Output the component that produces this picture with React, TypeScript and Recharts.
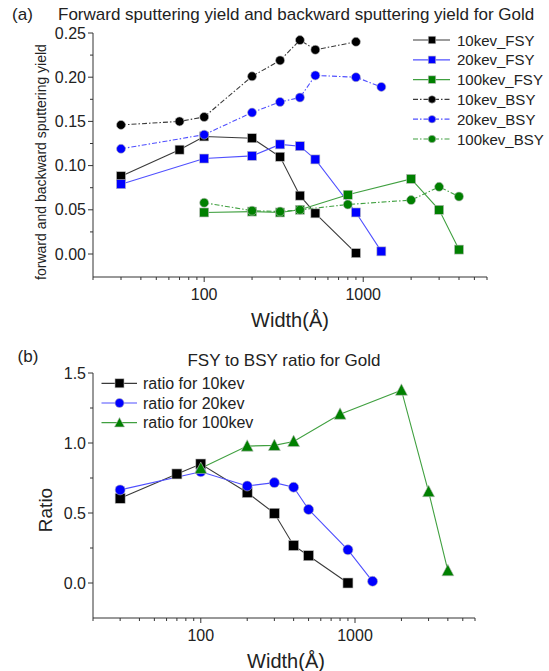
import React from 'react';
import { LineChart, Line, XAxis, YAxis } from 'recharts';

const FONT = '"Liberation Sans", Arial, Helvetica, sans-serif';

// ---- Panel (a): sputtering yields ----
const widths10 = [30, 70, 100, 200, 300, 400, 500, 900];
const fsy10 = [0.088, 0.118, 0.133, 0.131, 0.110, 0.066, 0.046, 0.001];
const bsy10 = [0.146, 0.150, 0.155, 0.201, 0.219, 0.242, 0.231, 0.240];

const widths20 = [30, 100, 200, 300, 400, 500, 900, 1300];
const fsy20 = [0.079, 0.108, 0.111, 0.124, 0.122, 0.107, 0.047, 0.003];
const bsy20 = [0.119, 0.135, 0.160, 0.172, 0.177, 0.202, 0.200, 0.189];

const widths100 = [100, 200, 300, 400, 800, 2000, 3000, 4000];
const fsy100 = [0.047, 0.048, 0.047, 0.050, 0.067, 0.085, 0.050, 0.005];
const bsy100 = [0.058, 0.049, 0.048, 0.050, 0.056, 0.061, 0.076, 0.065];

// ---- Panel (b): FSY / BSY ratio ----
const ratio10 = [0.605, 0.779, 0.850, 0.646, 0.498, 0.268, 0.195, 0.0];
const ratio20 = [0.665, 0.795, 0.693, 0.717, 0.684, 0.525, 0.237, 0.012];
const ratio100 = [0.819, 0.978, 0.983, 1.011, 1.206, 1.377, 0.653, 0.088];

// ---- Ticks ----
const xTicks = [20, 30, 40, 50, 60, 70, 80, 90, 100, 200, 300, 400, 500, 600, 700, 800, 900, 1000, 2000, 3000, 4000, 5000, 6000];
const xMajor = [100, 1000];
const yTicksA = [0, 0.025, 0.05, 0.075, 0.1, 0.125, 0.15, 0.175, 0.2, 0.225, 0.25];
const yMajorA = [0, 0.05, 0.1, 0.15, 0.2, 0.25];
const yTicksB = [0, 0.25, 0.5, 0.75, 1.0, 1.25, 1.5];
const yMajorB = [0, 0.5, 1.0, 1.5];

const BLACK = '#000000';
const BLUE = '#0000ff';
const GREEN = '#008000';
const LINE_BLACK = '#3a3a3a';
const LINE_BLUE = '#5050ff';
const LINE_GREEN = '#40a040';
const DASH = '5 2 1.5 2';
const AXIS = '#333333';

const toPoints = (xs: number[], ys: number[]) => xs.map((x, i) => ({ x, y: ys[i] }));
const isIn = (v: number, arr: number[]) => arr.some((a) => Math.abs(a - v) < 1e-9);

type Shape = 'square' | 'circle' | 'triangle';

const Marker = ({ shape, cx, cy, color, size }: { shape: Shape; cx: number; cy: number; color: string; size: number }) => {
  const h = size / 2;
  if (shape === 'square') {
    return <rect x={cx - h} y={cy - h} width={size} height={size} fill={color} stroke="#bbbbbb" strokeWidth={0.6} />;
  }
  if (shape === 'circle') {
    return <circle cx={cx} cy={cy} r={h} fill={color} stroke="#bbbbbb" strokeWidth={0.6} />;
  }
  const t = size * 0.58;
  return (
    <polygon
      points={`${cx},${cy - t} ${cx - h - 0.5},${cy + t * 0.8} ${cx + h + 0.5},${cy + t * 0.8}`}
      fill={color}
      stroke="#bbbbbb"
      strokeWidth={0.6}
    />
  );
};

const makeDot = (shape: Shape, color: string, size: number) => (props: any) => {
  const { cx, cy, index } = props;
  if (cx == null || cy == null) return <g key={`d-${index}`} />;
  return (
    <g key={`d-${index}`}>
      <Marker shape={shape} cx={cx} cy={cy} color={color} size={size} />
    </g>
  );
};

const XTick = (props: any) => {
  const { x, y, payload } = props;
  const v = payload.value;
  const major = isIn(v, xMajor);
  return (
    <g>
      <line x1={x} x2={x} y1={y} y2={y + (major ? 5 : 3)} stroke={AXIS} strokeWidth={1} />
      {major && (
        <text x={x} y={y + 17} textAnchor="middle" dominantBaseline="central" fontSize={16} fontFamily={FONT} fill="#222">
          {v}
        </text>
      )}
    </g>
  );
};

const makeYTick = (majors: number[], digits: number) => (props: any) => {
  const { x, y, payload } = props;
  const v = payload.value;
  const major = isIn(v, majors);
  return (
    <g>
      <line x1={x} x2={x - (major ? 5 : 3)} y1={y} y2={y} stroke={AXIS} strokeWidth={1} />
      {major && (
        <text x={x - 7} y={y} textAnchor="end" dominantBaseline="central" fontSize={16} fontFamily={FONT} fill="#222">
          {v.toFixed(digits)}
        </text>
      )}
    </g>
  );
};

const seriesA = [
  { name: '10kev_FSY', xs: widths10, ys: fsy10, color: BLACK, line: LINE_BLACK, shape: 'square' as Shape, dash: undefined as string | undefined },
  { name: '20kev_FSY', xs: widths20, ys: fsy20, color: BLUE, line: LINE_BLUE, shape: 'square' as Shape, dash: undefined },
  { name: '100kev_FSY', xs: widths100, ys: fsy100, color: GREEN, line: LINE_GREEN, shape: 'square' as Shape, dash: undefined },
  { name: '10kev_BSY', xs: widths10, ys: bsy10, color: BLACK, line: LINE_BLACK, shape: 'circle' as Shape, dash: DASH },
  { name: '20kev_BSY', xs: widths20, ys: bsy20, color: BLUE, line: LINE_BLUE, shape: 'circle' as Shape, dash: DASH },
  { name: '100kev_BSY', xs: widths100, ys: bsy100, color: GREEN, line: LINE_GREEN, shape: 'circle' as Shape, dash: DASH },
];

const seriesB = [
  { name: 'ratio for 10kev', xs: widths10, ys: ratio10, color: BLACK, line: LINE_BLACK, shape: 'square' as Shape, dash: undefined as string | undefined },
  { name: 'ratio for 20kev', xs: widths20, ys: ratio20, color: BLUE, line: LINE_BLUE, shape: 'circle' as Shape, dash: undefined },
  { name: 'ratio for 100kev', xs: widths100, ys: ratio100, color: GREEN, line: LINE_GREEN, shape: 'triangle' as Shape, dash: undefined },
];

const LegendRows = ({ items, x0, x1, xm, xt, y0, dy, fontSize, size }: any) => (
  <g>
    {items.map((s: any, i: number) => {
      const y = y0 + i * dy;
      return (
        <g key={s.name}>
          <line x1={x0} x2={x1} y1={y} y2={y} stroke={s.line} strokeWidth={1.2} strokeDasharray={s.dash} />
          <Marker shape={s.shape} cx={xm} cy={y} color={s.color} size={size} />
          <text x={xt} y={y} dominantBaseline="central" fontSize={fontSize} fontFamily={FONT} fill="#222">
            {s.name}
          </text>
        </g>
      );
    })}
  </g>
);

export default function App() {
  return (
    <div style={{ position: 'absolute', left: 0, top: 0, width: 549, height: 671, background: '#fff', overflow: 'hidden' }}>
      <div style={{ position: 'absolute', left: 0, top: 0 }}>
        <LineChart width={549} height={340} margin={{ top: 33, right: 62, bottom: 33, left: 33 }}>
          <XAxis
            dataKey="x"
            type="number"
            scale="log"
            domain={[20, 6000]}
            allowDataOverflow
            ticks={xTicks}
            interval={0}
            tick={<XTick />}
            tickLine={false}
            tickSize={0}
            tickMargin={0}
            height={30}
            axisLine={{ stroke: AXIS, strokeWidth: 1 }}
          />
          <YAxis
            type="number"
            domain={[-0.026, 0.25]}
            allowDataOverflow
            ticks={yTicksA}
            interval={0}
            tick={makeYTick(yMajorA, 2)}
            tickLine={false}
            tickSize={0}
            tickMargin={0}
            width={60}
            axisLine={{ stroke: AXIS, strokeWidth: 1 }}
          />
          {seriesA.map((s) => (
            <Line
              key={s.name}
              data={toPoints(s.xs, s.ys)}
              dataKey="y"
              type="linear"
              stroke={s.line}
              strokeWidth={1.1}
              strokeDasharray={s.dash}
              dot={makeDot(s.shape, s.color, 9)}
              activeDot={false}
              isAnimationActive={false}
            />
          ))}
        </LineChart>
      </div>
      <div style={{ position: 'absolute', left: 0, top: 340 }}>
        <LineChart width={549} height={331} margin={{ top: 33, right: 74, bottom: 23, left: 33 }}>
          <XAxis
            dataKey="x"
            type="number"
            scale="log"
            domain={[20, 6000]}
            allowDataOverflow
            ticks={xTicks}
            interval={0}
            tick={<XTick />}
            tickLine={false}
            tickSize={0}
            tickMargin={0}
            height={30}
            axisLine={{ stroke: AXIS, strokeWidth: 1 }}
          />
          <YAxis
            type="number"
            domain={[-0.25, 1.5]}
            allowDataOverflow
            ticks={yTicksB}
            interval={0}
            tick={makeYTick(yMajorB, 1)}
            tickLine={false}
            tickSize={0}
            tickMargin={0}
            width={60}
            axisLine={{ stroke: AXIS, strokeWidth: 1 }}
          />
          {seriesB.map((s) => (
            <Line
              key={s.name}
              data={toPoints(s.xs, s.ys)}
              dataKey="y"
              type="linear"
              stroke={s.line}
              strokeWidth={1.1}
              dot={makeDot(s.shape, s.color, s.shape === 'triangle' ? 11 : 10)}
              activeDot={false}
              isAnimationActive={false}
            />
          ))}
        </LineChart>
      </div>
      <svg width={549} height={671} style={{ position: 'absolute', left: 0, top: 0, pointerEvents: 'none' }}>
        <g fontFamily={FONT} fill="#222">
          <text x={22.5} y={14} textAnchor="middle" dominantBaseline="central" fontSize={17}>(a)</text>
          <text x={58} y={14} textAnchor="start" dominantBaseline="central" fontSize={17}>
            Forward sputtering yield and backward sputtering yield for Gold
          </text>
          <text x={41} y={162} textAnchor="middle" dominantBaseline="central" fontSize={14} transform="rotate(-90 41 162)">
            forward and backward sputtering yield
          </text>
          <text x={290} y={320} textAnchor="middle" dominantBaseline="central" fontSize={20}>Width(Å)</text>

          <text x={28} y={356} textAnchor="middle" dominantBaseline="central" fontSize={17}>(b)</text>
          <text x={284} y={360} textAnchor="middle" dominantBaseline="central" fontSize={17}>FSY to BSY ratio for Gold</text>
          <text x={45} y={510} textAnchor="middle" dominantBaseline="central" fontSize={19} transform="rotate(-90 45 510)">Ratio</text>
          <text x={286} y={661} textAnchor="middle" dominantBaseline="central" fontSize={20}>Width(Å)</text>
        </g>
        <LegendRows items={seriesA} x0={413} x1={450} xm={432} xt={457} y0={40} dy={19.8} fontSize={15} size={7.5} />
        <LegendRows items={seriesB} x0={101.5} x1={137} xm={119.5} xt={143} y0={383.3} dy={19.7} fontSize={16} size={9} />
      </svg>
    </div>
  );
}
